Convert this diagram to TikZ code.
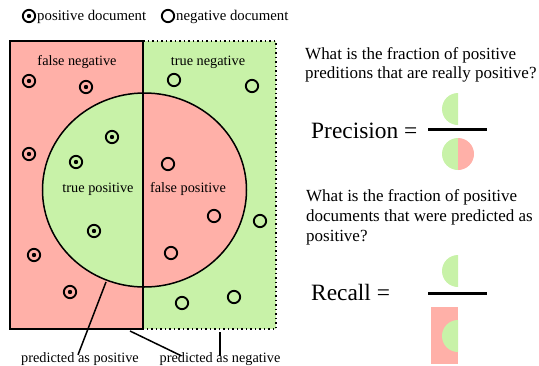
\documentclass[tikz,border=0pt]{standalone}
\usepackage{fontspec}
\setmainfont{Liberation Serif}
\definecolor{negred}{RGB}{255,176,168}
\definecolor{posgreen}{RGB}{200,242,168}
\begin{document}
\begin{tikzpicture}[x=1pt,y=-1pt,
  negdoc/.style={circle,draw,line width=1.9pt,minimum size=12.3pt,inner sep=0pt},
  posdoc/.style={negdoc,path picture={\fill (path picture bounding box.center) circle (2.2pt);}},
  lbl/.style={font=\fontsize{14.3}{16}\selectfont,inner sep=0pt,anchor=base},
  qtext/.style={font=\fontsize{17}{19.5}\selectfont,inner sep=0pt,anchor=base west},
  bigtext/.style={font=\fontsize{23.4}{26}\selectfont,inner sep=0pt,anchor=base west},
  pointer/.style={line width=1.5pt},
  fracbar/.style={line width=3pt}]
\useasboundingbox (0,0) rectangle (539,365);

% legend
\node[posdoc] (legpos) at (29,16) {};
\node[lbl,anchor=base west,font=\fontsize{14.8}{16}\selectfont] (legpostxt) at (37,20) {positive document};
\node[negdoc] (legneg) at (168,16) {};
\node[lbl,anchor=base west,font=\fontsize{14.8}{16}\selectfont] (legnegtxt) at (176,20) {negative document};

% regions
\fill[negred] (10,41) rectangle (143,329);
\fill[posgreen] (143,41) rectangle (276,329);
\begin{scope}
  \clip (144.5,190) ellipse [x radius=102pt,y radius=97pt];
  \fill[posgreen] (40,85) rectangle (143,295);
  \fill[negred] (143,85) rectangle (250,295);
\end{scope}
\draw[line width=1.5pt] (10,41) rectangle (143,329);
\draw[line width=1.5pt,dash pattern=on 1.5pt off 3pt] (143,41) -- (276,41) -- (276,329) -- (143,329);
\draw[line width=1.5pt] (144.5,190) ellipse [x radius=102pt,y radius=97pt];

% region labels
\node[lbl] (fn) at (77,65) {false negative};
\node[lbl] (tn) at (208,65) {true negative};
\node[lbl] (tp) at (98,192) {true positive};
\node[lbl] (fp) at (188,192) {false positive};

% positive documents
\node[posdoc] (p1) at (29,81) {};
\node[posdoc] (p2) at (86,87) {};
\node[posdoc] (p3) at (112,137) {};
\node[posdoc] (p4) at (29,154) {};
\node[posdoc] (p5) at (76,162) {};
\node[posdoc] (p6) at (94,231) {};
\node[posdoc] (p7) at (34,255) {};
\node[posdoc] (p8) at (70,292) {};

% negative documents
\node[negdoc] (n1) at (174,80) {};
\node[negdoc] (n2) at (252,86) {};
\node[negdoc] (n3) at (168,164) {};
\node[negdoc] (n4) at (214,216) {};
\node[negdoc] (n5) at (260,221) {};
\node[negdoc] (n6) at (171,253) {};
\node[negdoc] (n7) at (182,303) {};
\node[negdoc] (n8) at (234,297) {};

% bottom labels and pointers
\node[lbl] (ppos) at (80,362) {predicted as positive};
\node[lbl] (pneg) at (220,362) {predicted as negative};
\coordinate (pposend) at (106,282);
\coordinate (pnegend) at (130,331);
\coordinate (pnegtick) at (220,332);
\draw[pointer] (pposend) -- ([xshift=-2pt,yshift=-3pt]ppos.north);
\draw[pointer] (pnegend) -- ([xshift=22pt,yshift=-4pt]pneg.north west);
\draw[pointer] (pnegtick) -- ([yshift=-4pt]pneg.north);

% precision
\node[qtext] (q1a) at (305,59) {What is the fraction of positive};
\node[qtext] (q1b) at (305,78.5) {preditions that are really positive?};
\node[bigtext] (prec) at (311,138) {Precision =};
\coordinate (pbarl) at (428,129);
\coordinate (pbarr) at (487,129);
\draw[fracbar] (pbarl) -- (pbarr);
\begin{scope}
  \clip (440,90) rectangle (458,128);
  \fill[posgreen] (458,109) circle (16pt);
\end{scope}
\begin{scope}
  \clip (440,135) rectangle (458,172);
  \fill[posgreen] (458,154) circle (16pt);
\end{scope}
\begin{scope}
  \clip (458,135) rectangle (476,172);
  \fill[negred] (458,154) circle (16pt);
\end{scope}

% recall
\node[qtext] (q2a) at (306,201.5) {What is the fraction of positive};
\node[qtext] (q2b) at (306,221.5) {documents that were predicted as};
\node[qtext] (q2c) at (306,241.5) {positive?};
\node[bigtext] (rec) at (311,300.5) {Recall =};
\coordinate (rbarl) at (428,293);
\coordinate (rbarr) at (487,293);
\draw[fracbar] (rbarl) -- (rbarr);
\begin{scope}
  \clip (440,252) rectangle (458,290);
  \fill[posgreen] (458,271) circle (16pt);
\end{scope}
\fill[negred] (431,307) rectangle (458,364);
\begin{scope}
  \clip (440,318) rectangle (458,355);
  \fill[posgreen] (458,336) circle (16pt);
\end{scope}
\end{tikzpicture}
\end{document}
